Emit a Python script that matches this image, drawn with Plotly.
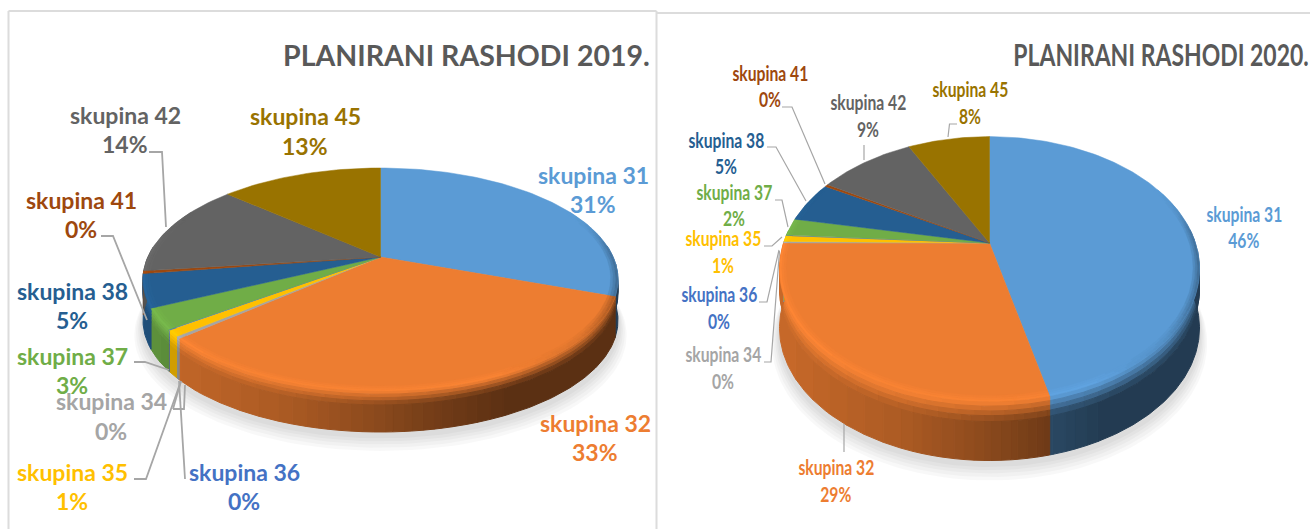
import math
import numpy as np
import plotly.graph_objects as go

# ---------- data ----------
categories = ["skupina 31", "skupina 32", "skupina 34", "skupina 35", "skupina 36",
              "skupina 37", "skupina 38", "skupina 41", "skupina 42", "skupina 45"]
values_2019 = [30.6, 32.9, 0.3, 0.9, 0.1, 3.0, 4.8, 0.4, 13.6, 13.4]
values_2020 = [46.2, 28.8, 0.2, 0.75, 0.05, 2.1, 5.0, 0.3, 9.0, 7.6]
titles = ["PLANIRANI RASHODI 2019.", "PLANIRANI RASHODI 2020."]

# ---------- style / layout ----------
colors = ["#5B9BD5", "#ED7D31", "#A5A5A5", "#FFC000", "#4472C4",
          "#70AD47", "#255E91", "#9E480E", "#636363", "#997300"]

geom = [
    dict(cx=380.5, cy=257, rx=237.5, back=89, front=134, depth=41),
    dict(cx=989.5, cy=243, rx=210, back=106.4, front=158.5, depth=59),
]
label_pos = [
    {"skupina 31": (593, 175, 204), "skupina 32": (595, 423, 452), "skupina 34": (111, 401, 431),
     "skupina 35": (72, 472, 501), "skupina 36": (244, 472, 501), "skupina 37": (72, 356, 385),
     "skupina 38": (72, 291, 320), "skupina 41": (81, 200, 229), "skupina 42": (125, 115, 144),
     "skupina 45": (305, 116, 146)},
    {"skupina 31": (1244, 214, 240), "skupina 32": (836, 467, 494), "skupina 34": (723, 354, 381),
     "skupina 35": (723, 238, 265), "skupina 36": (719, 294, 321), "skupina 37": (734, 192, 218),
     "skupina 38": (726, 140, 166), "skupina 41": (770, 73, 99), "skupina 42": (868, 102, 129),
     "skupina 45": (970, 89, 116)},
]
leaders = [
    [[(149, 152), (162, 152), (166, 227)],
     [(101, 236), (113, 236), (147, 320)],
     [(134, 362), (145, 362), (169, 370)],
     [(173, 409), (184, 409), (185, 385)],
     [(173, 409), (181, 381)],
     [(134, 479), (146, 479), (181, 381)],
     [(185, 479), (179, 381)]],
    [[(782, 107), (792, 107), (825, 184)],
     [(864, 145), (864, 160)],
     [(957, 124), (949.5, 124), (948, 137)],
     [(767, 147), (776, 147), (806, 201)],
     [(775, 200), (782, 200), (788, 227)],
     [(764, 246), (772, 246), (782, 237)],
     [(759, 302), (767, 302), (779, 250)],
     [(764, 362), (771, 362), (779.5, 251)],
     [(844, 452), (844, 424)]],
]
label_font = [dict(family="Lato", size=23, weight="bold"),
              dict(family="Lato", size=20, weight="bold")]
leader_width = [1.8, 1.2]
LEVELS = 60


def hex_rgb(h):
    return [int(h[i:i + 2], 16) for i in (1, 3, 5)]


def scaled(h, f):
    return "rgb(%d,%d,%d)" % tuple(min(255, int(round(c * f))) for c in hex_rgb(h))


class Proj:
    """Perspective projection of a unit-circle pie onto the page."""
    def __init__(s, g):
        s.g = g
        s.b = 2 / (1 / g["back"] + 1 / g["front"])
        s.k = s.b / g["back"] - 1
        s.a = g["rx"] * math.sqrt(1 - s.k ** 2)

    def pt(s, theta, r=1.0, dy=0.0):
        u, v = r * np.sin(theta), r * np.cos(theta)
        d = 1 + s.k * v
        return s.g["cx"] + s.a * u / d, s.g["cy"] - s.b * v / d + dy


def wall_f(xn):
    return float(np.interp(xn, [-1, -0.4, 0, 0.3, 0.55, 1], [0.84, 0.72, 0.58, 0.46, 0.38, 0.38]))


def rim_f(xn):
    return float(np.interp(xn, [-1, 0.5, 0.85, 1], [1.06, 1.05, 0.92, 0.72]))


fig = go.Figure()


def poly(xs, ys, color, lw=0.6):
    fig.add_trace(go.Scatter(x=xs, y=ys, mode="lines", fill="toself", fillcolor=color,
                             line=dict(color=color, width=lw), hoverinfo="skip", showlegend=False))


def band(p, col, a0, a1, color_at, outer, inner, lw=1.0):
    """One band along the rim: neighbouring steps of equal colour merge into a single polygon.
    outer/inner are functions t -> (x, y)."""
    dt = math.radians(0.75)
    n = max(1, int(math.ceil((a1 - a0) / dt)))
    edges = np.linspace(a0, a1, n + 1)
    runs = []
    for t0, t1 in zip(edges[:-1], edges[1:]):
        key = color_at((t0 + t1) / 2)
        if key is None:
            continue
        if runs and runs[-1][0] == key and abs(runs[-1][2] - t0) < 1e-9:
            runs[-1][2] = t1
        else:
            runs.append([key, t0, t1])
    for key, t0, t1 in runs:
        m = max(2, int((t1 - t0) / dt) + 1)
        t = np.linspace(t0, t1, m)
        xa, ya = outer(t)
        xb, yb = inner(t[::-1])
        poly(list(xa) + list(xb) + [xa[0]], list(ya) + list(yb) + [ya[0]],
             scaled(col, key / LEVELS), lw=lw)


def draw_pie(values, g, idx):
    p = Proj(g)
    total = sum(values)
    fr = np.cumsum([0] + list(values)) / total * 2 * math.pi

    # soft shadow
    th = np.linspace(0, 2 * math.pi, 181)
    for scale, off in [(1.035, 13), (1.028, 11), (1.02, 9), (1.014, 7), (1.008, 5)]:
        x, y = p.pt(th, scale, g["depth"] + off)
        poly(list(x), list(y), "rgba(0,0,0,0.028)", lw=0)

    # side wall
    rungs = [0, 0.08, 0.16, 0.24, 0.34, 1.0]
    for w, col in enumerate(colors):
        a0, a1 = fr[w], fr[w + 1]
        for r0, r1 in zip(rungs[:-1], rungs[1:]):
            mix = min(1.0, (r0 + r1) / 2 / 0.34)

            def key_at(t, mix=mix):
                if math.cos(t) > 0.1:
                    return None
                xn = (p.pt(t)[0] - g["cx"]) / g["rx"]
                return round((rim_f(xn) * (1 - mix) + wall_f(xn) * mix) * LEVELS)

            band(p, col, a0, a1, key_at,
                 lambda t, r=r0: p.pt(t, 1, r * g["depth"]),
                 lambda t, r=r1: p.pt(t, 1, r * g["depth"]))

    # top surface
    for w, col in enumerate(colors):
        a0, a1 = fr[w], fr[w + 1]
        n = max(2, int(math.ceil((a1 - a0) / math.radians(1.5))))
        t = np.linspace(a0, a1, n + 1)
        x, y = p.pt(t)
        poly([g["cx"]] + list(x) + [g["cx"]], [g["cy"]] + list(y) + [g["cy"]], col, lw=0.5)

    # bevel along the front rim
    rr = [0.97, 0.98, 0.99, 1.0]
    for w, col in enumerate(colors):
        a0, a1 = fr[w], fr[w + 1]
        for i, (r0, r1) in enumerate(zip(rr[:-1], rr[1:])):
            amt = (i + 1) / (len(rr) - 1)

            def key_at(t, amt=amt):
                weight = min(1.0, max(0.0, (0.45 - math.cos(t)) / 0.35))
                if weight <= 0:
                    return None
                xn = (p.pt(t)[0] - g["cx"]) / g["rx"]
                return round((1 + (rim_f(xn) - 1) * weight * amt) * LEVELS)

            band(p, col, a0, a1, key_at,
                 lambda t, r=r1: p.pt(t, r),
                 lambda t, r=r0: p.pt(t, r), lw=0.3)

    # leader lines
    for pts in leaders[idx]:
        fig.add_trace(go.Scatter(x=[q[0] for q in pts], y=[q[1] for q in pts], mode="lines",
                                 line=dict(color="#A6A6A6", width=leader_width[idx]), hoverinfo="skip",
                                 showlegend=False))

    # labels
    for name, col, val in zip(categories, colors, values):
        lx, y1, y2 = label_pos[idx][name]
        for txt, ly in ((name, y1), (f"{round(val)}%", y2)):
            fig.add_annotation(x=lx, y=ly, text=txt, showarrow=False, xanchor="center", yanchor="middle",
                               font=dict(color=col, **label_font[idx]))


draw_pie(values_2019, geom[0], 0)
draw_pie(values_2020, geom[1], 1)

fig.add_annotation(x=466, y=55, text=titles[0], showarrow=False, xanchor="center", yanchor="middle",
                   font=dict(family="Lato", size=28.5, weight="bold", color="#595959"))
fig.add_annotation(x=1161, y=54, text=titles[1], showarrow=False, xanchor="center", yanchor="middle",
                   font=dict(family="Lato", size=30, weight="bold", color="#595959"))

frame = dict(color="#DCDCDC", width=2)
shapes = [
    dict(type="line", x0=8.5, x1=8.5, y0=11, y1=529, line=frame),
    dict(type="line", x0=8.5, x1=656.5, y0=11, y1=11, line=frame),
    dict(type="line", x0=656.5, x1=656.5, y0=11, y1=529, line=frame),
    dict(type="line", x0=657, x1=1310, y0=13, y1=13, line=frame),
]

fig.update_layout(
    width=1310, height=529, margin=dict(l=0, r=0, t=0, b=0),
    paper_bgcolor="white", plot_bgcolor="white", shapes=shapes,
    xaxis=dict(range=[0, 1310], visible=False, fixedrange=True),
    yaxis=dict(range=[529, 0], visible=False, fixedrange=True),
)

# The right-hand chart's text is horizontally squeezed in the reference.
squeeze = """
document.body.style.margin='0';document.body.style.overflow='hidden';
function squeezeRight(){
  document.querySelectorAll('.annotation-text').forEach(function(t){
    if(t.hasAttribute('textLength')) return;
    var b=t.getBoundingClientRect();
    var isTitle=t.textContent.indexOf('2020')>=0;
    if((b.left+b.right)/2>657 || isTitle){
      var L=t.getComputedTextLength();
      t.setAttribute('lengthAdjust','spacingAndGlyphs');
      t.setAttribute('textLength',(L*(isTitle?0.765:0.785)).toFixed(1));
    }
  });
}
squeezeRight();setTimeout(squeezeRight,50);
"""
fig.write_html("out.html", config=dict(displayModeBar=False), post_script=squeeze)
